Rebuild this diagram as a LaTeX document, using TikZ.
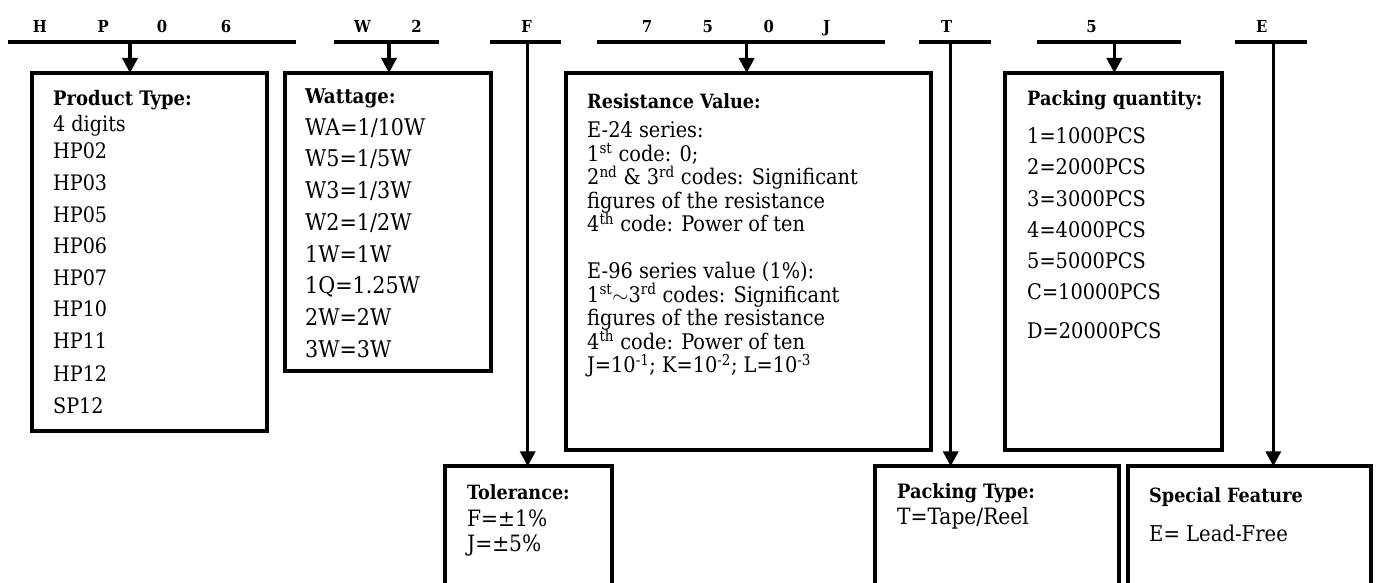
\documentclass[tikz,border=0pt]{standalone}
\usepackage{fontspec}
\setmainfont{DejaVu Serif Condensed}
\usetikzlibrary{arrows.meta}
\begin{document}
\begin{tikzpicture}[x=1pt,y=-1pt,
  codeline/.style={line width=4pt},
  box/.style={draw, line width=4pt, anchor=north west, inner sep=0pt, outer sep=0pt},
  arr/.style={line width=3.5pt, -{Triangle[width=15pt,length=15pt]}},
  code/.style={anchor=base, inner sep=0pt, font=\bfseries\fontsize{16.5}{16.5}\selectfont},
  ttl/.style={anchor=base west, inner sep=0pt, font=\bfseries\fontsize{#1}{#1}\selectfont},
  txt/.style={anchor=base west, inner sep=0pt, font=\fontsize{#1}{#1}\selectfont},
]
\useasboundingbox (0,0) rectangle (1376,583);
\clip (0,0) rectangle (1376,583);

% ---------- boxes ----------
\node[box, minimum width=235pt, minimum height=357.5pt] (bpt) at (32,73) {};
\node[box, minimum width=206pt, minimum height=298pt] (bw) at (285,73) {};
\node[box, minimum width=364.5pt, minimum height=377pt] (br) at (566,73) {};
\node[box, minimum width=217pt, minimum height=377pt] (bq) at (1005,73) {};
\node[box, minimum width=167.3pt, minimum height=160pt] (bt) at (444.7,466.3) {};
\node[box, minimum width=243.7pt, minimum height=160pt] (bpk) at (875.3,466.3) {};
\node[box, minimum width=243pt, minimum height=160pt] (bsf) at (1128,466.3) {};

% ---------- code lines ----------
\coordinate (l1a) at (8,42);      \coordinate (l1b) at (296,42);
\coordinate (l2a) at (334.3,42);  \coordinate (l2b) at (438.7,42);
\coordinate (l3a) at (490,42);    \coordinate (l3b) at (561,42);
\coordinate (l4a) at (597.3,42);  \coordinate (l4b) at (885,42);
\coordinate (l5a) at (919,42);    \coordinate (l5b) at (990.7,42);
\coordinate (l6a) at (1037.3,42); \coordinate (l6b) at (1181,42);
\coordinate (l7a) at (1235,42);   \coordinate (l7b) at (1306.7,42);
\foreach \n in {1,...,7} \draw[codeline] (l\n a) -- (l\n b);

% ---------- code letters ----------
\node[code] (cH) at (40,32.3) {H};
\node[code] (cP) at (103.3,32.3) {P};
\node[code] (c0) at (162,32.3) {0};
\node[code] (c6) at (226,32.3) {6};
\node[code] (cW) at (362.5,32.3) {W};
\node[code] (c2) at (416.5,32.3) {2};
\node[code] (cF) at (526.7,32.3) {F};
\node[code] (c7) at (647,32.3) {7};
\node[code] (c5a) at (707.8,32.3) {5};
\node[code] (c0b) at (768.8,32.3) {0};
\node[code] (cJ) at (826.7,32.3) {J};
\node[code] (cT) at (946.7,32.3) {T};
\node[code] (c5b) at (1091.5,32.3) {5};
\node[code] (cE) at (1261.7,32.3) {E};

% ---------- arrows ----------
\coordinate (a1) at (130,42);
\coordinate (a2) at (389,42);
\coordinate (a3) at (527.7,42);
\coordinate (a4) at (746.7,42);
\coordinate (a5) at (950.7,42);
\coordinate (a6) at (1114.3,42);
\coordinate (a7) at (1273.3,42);
\draw[arr] (a1) -- (a1 |- bpt.north);
\draw[arr] (a2) -- (a2 |- bw.north);
\draw[arr] (a3) -- (a3 |- bt.north);
\draw[arr] (a4) -- (a4 |- br.north);
\draw[arr] (a5) -- (a5 |- bpk.north);
\draw[arr] (a6) -- (a6 |- bq.north);
\draw[arr] (a7) -- (a7 |- bsf.north);

% ---------- Product Type ----------
\node[ttl=20] (tpt) at (53,105.5) {Product Type:};
\foreach \y/\t [count=\i] in {131.7/{4 digits},159/{HP02},190.5/{HP03},222/{HP05},253.5/{HP06},285/{HP07},316.7/{HP10},348.3/{HP11},381/{HP12},413/{SP12}}
  \node[txt=21.3] (pt\i) at (53,\y) {\t};

% ---------- Wattage ----------
\node[ttl=20.3] (tw) at (305,104) {Wattage:};
\foreach \y/\t [count=\i] in {135.5/{WA=1/10W},167/{W5=1/5W},198.7/{W3=1/3W},230.3/{W2=1/2W},262/{1W=1W},293.7/{1Q=1.25W},325.3/{2W=2W},357/{3W=3W}}
  \node[txt=23] (w\i) at (305,\y) {\t};

% ---------- Resistance ----------
\node[ttl=19.6] (tr) at (587,108.3) {Resistance Value:};
\foreach \y/\t [count=\i] in {137.8/{E-24 series:},161.3/{1\textsuperscript{st} code: 0;},184.8/{2\textsuperscript{nd} \& 3\textsuperscript{rd} codes: Significant},208.3/{figures of the resistance},231.8/{4\textsuperscript{th} code: Power of ten},278.8/{E-96 series value (1\%):},302.3/{1\textsuperscript{st}$\sim$3\textsuperscript{rd} codes: Significant},325.8/{figures of the resistance},349.3/{4\textsuperscript{th} code: Power of ten},372.8/{J=10\textsuperscript{-1}; K=10\textsuperscript{-2}; L=10\textsuperscript{-3}}}
  \node[txt=21.5] (r\i) at (587,\y) {\t};

% ---------- Packing quantity ----------
\node[ttl=19.7] (tq) at (1027,105.7) {Packing quantity:};
\foreach \y/\t [count=\i] in {144/{1=1000PCS},175/{2=2000PCS},206.3/{3=3000PCS},237.5/{4=4000PCS},268.7/{5=5000PCS},299.8/{C=10000PCS},338.3/{D=20000PCS}}
  \node[txt=21.5] (q\i) at (1027,\y) {\t};

% ---------- Tolerance ----------
\node[ttl=19.6] (tt) at (467,499) {Tolerance:};
\node[txt=22.5] (t1) at (467,526) {F=±1\%};
\node[txt=22.5] (t2) at (467,551.7) {J=±5\%};

% ---------- Packing Type ----------
\node[ttl=19.8] (tpk) at (897,498.5) {Packing Type:};
\node[txt=22.5] (pk1) at (897,524) {T=Tape/Reel};

% ---------- Special Feature ----------
\node[ttl=19.6] (tsf) at (1149,502.7) {Special Feature};
\node[txt=21.8] (sf1) at (1149,541.7) {E= Lead-Free};
\end{tikzpicture}
\end{document}
